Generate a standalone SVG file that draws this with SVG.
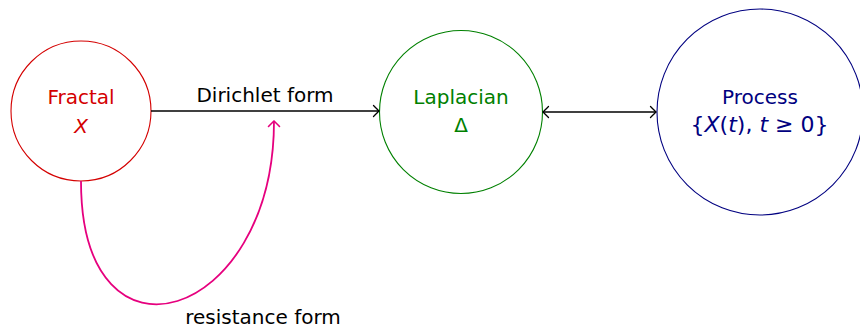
<svg xmlns="http://www.w3.org/2000/svg" width="860" height="329" viewBox="0 0 860 329">
  <style>
    text { font-family: "DejaVu Sans", "Liberation Sans", sans-serif; font-size: 20px; text-anchor: middle; }
    .it { font-style: italic; }
    .node circle { fill: none; stroke-width: 1.1; }
    .edge { fill: none; stroke: #000; stroke-width: 1.3; }
  </style>
  <defs>
    <marker id="arrK" markerUnits="userSpaceOnUse" markerWidth="14" markerHeight="14" viewBox="-8 -7 10 14" refX="0" refY="0" orient="auto-start-reverse">
      <path d="M-5.5,-5.5 Q-1.2,-1.3 0,0 Q-1.2,1.3 -5.5,5.5" fill="none" stroke="#000" stroke-width="1.3" stroke-linecap="round"/>
    </marker>
    <marker id="arrM" markerUnits="userSpaceOnUse" markerWidth="14" markerHeight="14" viewBox="-8 -7 10 14" refX="0" refY="0" orient="auto">
      <path d="M-5.5,-5.5 Q-1.2,-1.3 0,0 Q-1.2,1.3 -5.5,5.5" fill="none" stroke="#e6007e" stroke-width="1.6" stroke-linecap="round"/>
    </marker>
  </defs>

  <g id="fractal" class="node">
    <circle cx="81" cy="111" r="70" stroke="#d40000"/>
    <text x="81" y="104" fill="#d40000">Fractal</text>
    <text x="81" y="132.5" class="it" fill="#d40000">X</text>
  </g>

  <g id="laplacian" class="node">
    <circle cx="461" cy="112" r="81.5" stroke="#008000"/>
    <text x="461" y="104" fill="#008000">Laplacian</text>
    <text x="461" y="131.5" fill="#008000">Δ</text>
  </g>

  <g id="process" class="node">
    <circle cx="760" cy="112" r="103" stroke="#000080"/>
    <text x="760" y="104" fill="#000080">Process</text>
    <text x="759.5" y="132" fill="#000080" style="font-size:22px">{<tspan class="it">X</tspan>(<tspan class="it">t</tspan>), <tspan class="it">t</tspan> ≥ 0}</text>
  </g>

  <g id="connectors">
    <path class="edge" d="M151,111 H379" marker-end="url(#arrK)"/>
    <text x="265" y="102" fill="#000">Dirichlet form</text>
    <path class="edge" d="M543,112 H656" marker-start="url(#arrK)" marker-end="url(#arrK)"/>
    <path d="M81,181 C81,381 274,321 274,121" fill="none" stroke="#e6007e" stroke-width="1.8" marker-end="url(#arrM)"/>
    <text x="263" y="324" fill="#000">resistance form</text>
  </g>
</svg>
